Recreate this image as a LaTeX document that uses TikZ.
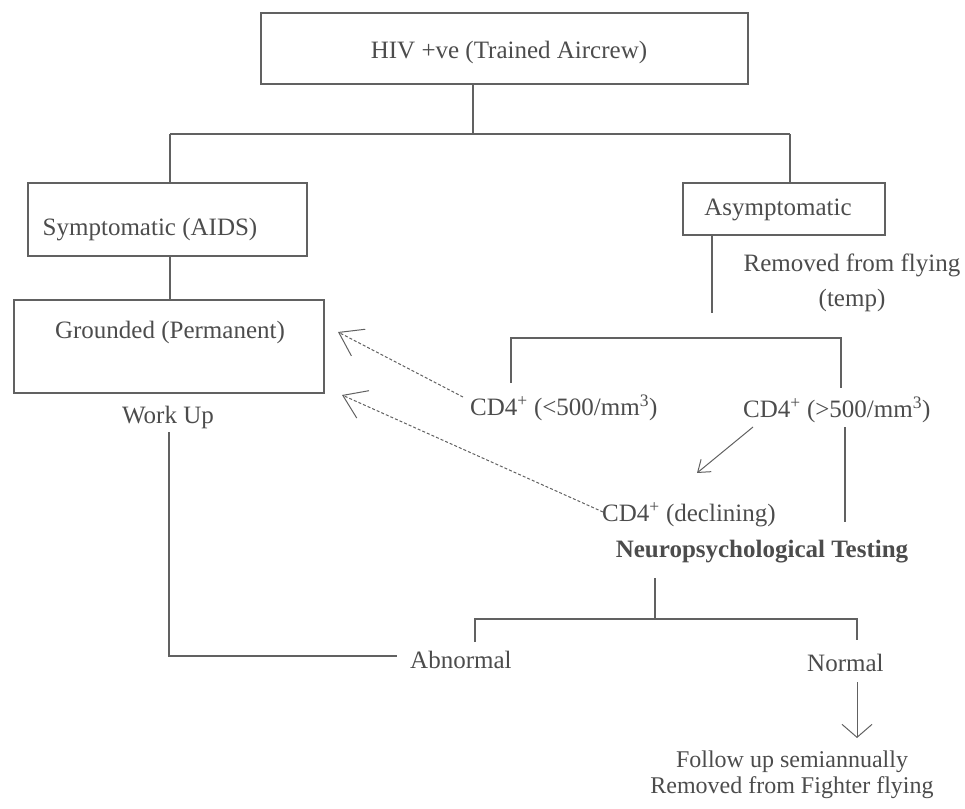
\documentclass[tikz,border=0pt]{standalone}
\usepackage{fontspec}
\setmainfont{Liberation Serif}
\usetikzlibrary{arrows.meta}
\definecolor{ln}{gray}{0.38}
\definecolor{tx}{gray}{0.30}
\tikzset{
  box/.style={draw=ln, line width=1.1pt, inner sep=0pt},
  lbl/.style={text=tx, inner sep=0pt, font=\fontsize{25}{33}\selectfont},
  conn/.style={draw=ln, line width=1.1pt},
  dconn/.style={draw=ln, line width=1pt, dash pattern=on 3pt off 2pt},
  openhead/.style={-{Straight Barb[length=22pt,width=30pt,line width=1pt]}},
  smallhead/.style={-{Straight Barb[length=11pt,width=16pt,line width=1pt]}},
  vhead/.style={-{Straight Barb[length=13pt,width=30pt,line width=1pt]}},
}
\begin{document}
\begin{tikzpicture}[x=1pt,y=-1pt]
\useasboundingbox (0,0) rectangle (965,808);
% boxes
\node[box, minimum width=487pt, minimum height=71pt] (top) at (504.5,48.5) {};
\node[lbl] (topt) at (509,52) {HIV +ve (Trained Aircrew)};
\node[box, minimum width=279pt, minimum height=73pt] (sym) at (167.5,219.5) {};
\node[lbl] (symt) at (150,230) {Symptomatic (AIDS)};
\node[box, minimum width=310pt, minimum height=93pt] (gr) at (169,346.5) {};
\node[lbl] (grt) at (170,332) {Grounded (Permanent)};
\node[box, minimum width=202pt, minimum height=52pt] (asym) at (784,209) {};
\node[lbl] (asymt) at (778,210) {Asymptomatic};
% texts
\node[lbl] (wu) at (168,417) {Work Up};
\node[lbl, align=center, font=\fontsize{25}{35}\selectfont] (rem) at (852,283) {Removed from flying\\(temp)};
\node[lbl, anchor=west] (low) at (470,408) {CD4\textsuperscript{+} (<500/mm\textsuperscript{3})};
\node[lbl, anchor=west] (high) at (743,410) {CD4\textsuperscript{+} (>500/mm\textsuperscript{3})};
\node[lbl, anchor=west] (dec) at (602,515) {CD4\textsuperscript{+} (declining)};
\node[lbl, font=\fontsize{25}{30}\selectfont\bfseries] (neuro) at (762,552) {Neuropsychological Testing};
\node[lbl, anchor=west] (abn) at (410,660) {Abnormal};
\node[lbl, anchor=west] (nor) at (807,663) {Normal};
\node[lbl, align=center, font=\fontsize{24}{26}\selectfont] (fol) at (792,775) {Follow up semiannually\\Removed from Fighter flying};
% coordinates
\coordinate (j1) at (473,134);
\coordinate (jl) at (170,134);
\coordinate (jr) at (790,134);
\coordinate (a1) at (712,313);
\coordinate (b1) at (511,383);
\coordinate (b2) at (511,338);
\coordinate (b3) at (841,338);
\coordinate (b4) at (841,388);
\coordinate (b5) at (845,427);
\coordinate (b6) at (845,522);
\coordinate (w1) at (169,432);
\coordinate (w2) at (169,656);
\coordinate (w3) at (397,656);
\coordinate (n1) at (655,578);
\coordinate (n2) at (655,619);
\coordinate (c1) at (475,642);
\coordinate (c2) at (475,619);
\coordinate (c3) at (857,619);
\coordinate (c4) at (857,640);
\coordinate (t1) at (338,332);
\coordinate (t2) at (342,395);
\coordinate (s1) at (463,397);
\coordinate (s2) at (603,512);
\coordinate (h1) at (753,427);
\coordinate (h2) at (697,473);
\coordinate (v1) at (857,682);
\coordinate (v2) at (857,738);
% connectors
\draw[conn] (top.south -| j1) -- (j1);
\draw[conn] (jl) -- (jr);
\draw[conn] (jl) -- (sym.north -| jl);
\draw[conn] (jr) -- (asym.north -| jr);
\draw[conn] (sym.south -| jl) -- (gr.north -| jl);
\draw[conn] (w1) -- (w2) -- (w3);
\draw[conn] (asym.south -| a1) -- (a1);
\draw[conn] (b1) -- (b2) -- (b3) -- (b4);
\draw[conn] (b5) -- (b6);
\draw[conn] (n1) -- (n2);
\draw[conn] (c1) -- (c2) -- (c3) -- (c4);
\draw[dconn, openhead] (s1) -- (t1);
\draw[dconn, openhead] (s2) -- (t2);
\draw[conn, line width=1pt, smallhead] (h1) -- (h2);
\draw[conn, line width=1pt, vhead] (v1) -- (v2);
\end{tikzpicture}
\end{document}
